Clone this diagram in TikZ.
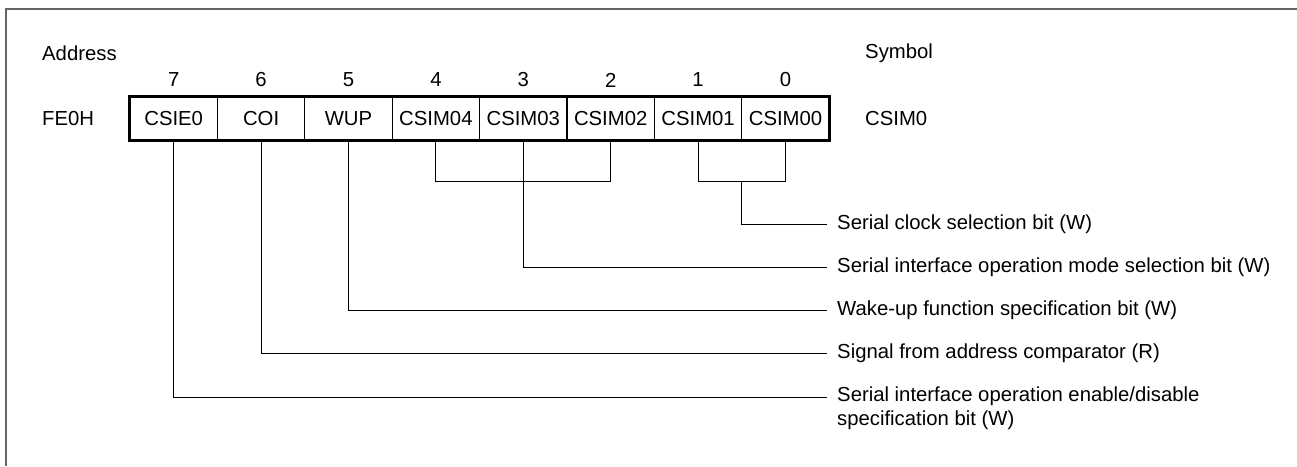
\documentclass[tikz,border=0pt]{standalone}
\usepackage{fontspec}
\setmainfont{Liberation Sans}
\usetikzlibrary{calc}
\begin{document}
\begin{tikzpicture}[x=1pt,y=-1pt,
  font=\fontsize{20.3}{24}\selectfont,
  cell/.style={draw, line width=1.2pt, minimum width=87.4pt, minimum height=43pt, inner sep=0pt},
  txt/.style={anchor=west, inner sep=0pt},
  lbl/.style={anchor=west, inner xsep=10pt, inner ysep=0pt, align=left},
  wire/.style={line width=1pt}]
\useasboundingbox (0,0) rectangle (1297,466);
\draw[line width=2pt, black!60] (1297,9) -- (6,9) -- (6,466);

% header texts
\node[txt] (addr) at (42,53) {Address};
\node[txt] (sym) at (865,53) {Symbol};
\node[txt] (fe0h) at (42,118.5) {FE0H};
\node[txt] (csim0) at (865,118.5) {CSIM0};

% cells
\foreach \n/\t [count=\i from 0] in {7/CSIE0,6/COI,5/WUP,4/CSIM04,3/CSIM03,2/CSIM02,1/CSIM01,0/CSIM00}{
  \node[cell] (b\n) at ({130+87.4*(\i+0.5)},118.5) {\t};
  \node (n\n) at ({130+87.4*(\i+0.5)},80) {\n};
}
\draw[line width=3pt] (b7.north west) rectangle (b0.south east);

% labels
\node[lbl] (l0) at (827,224) {Serial clock selection bit (W)};
\node[lbl] (l1) at (827,267.5) {Serial interface operation mode selection bit (W)};
\node[lbl] (l2) at (827,310.5) {Wake-up function specification bit (W)};
\node[lbl] (l3) at (827,353.5) {Signal from address comparator (R)};
\node[lbl, anchor=north west] (l4) at (827,387) {Serial interface operation enable/disable\\specification bit (W)};
\coordinate (e4) at (827,397);

% connectors
\draw[wire] (b4.south) -- ++(0,41) -| (b2.south);
\draw[wire] (b1.south) -- ++(0,41) -| (b0.south);
\coordinate (km) at ($(b1.south)!0.5!(b0.south)+(0,41)$);
\draw[wire] (km) |- (l0.west);
\draw[wire] (b3.south) |- (l1.west);
\draw[wire] (b5.south) |- (l2.west);
\draw[wire] (b6.south) |- (l3.west);
\draw[wire] (b7.south) |- (e4);
\end{tikzpicture}
\end{document}
